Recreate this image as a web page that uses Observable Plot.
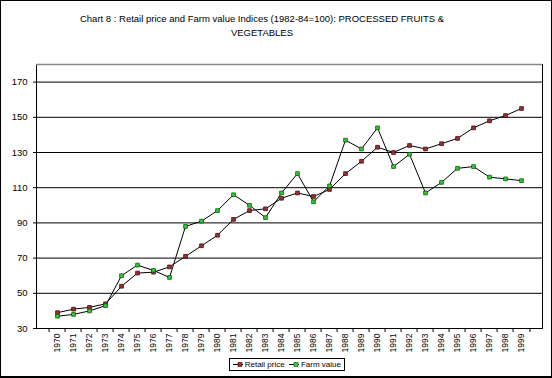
<!DOCTYPE html>
<html>
<head>
<meta charset="utf-8">
<script src="https://cdn.jsdelivr.net/npm/d3@7"></script>
<script src="https://cdn.jsdelivr.net/npm/@observablehq/plot@0.6"></script>
<style>
  html, body { margin: 0; padding: 0; background: white; }
  #wrap { position: relative; width: 552px; height: 378px; background: white; overflow: hidden; font-family: "Liberation Sans", Arial, sans-serif; }
  #border { position: absolute; left: 0; top: 0; width: 552px; height: 378px; box-sizing: border-box; border: 1px solid black; border-bottom-width: 2px; pointer-events: none; }
  #title { position: absolute; left: 0; top: 12px; width: 524px; text-align: center; font-size: 9.5px; line-height: 14px; color: #000; }
  #chart { position: absolute; left: 0; top: 0; }
  #legend { position: absolute; left: 229px; top: 358px; width: 114px; height: 11px; border: 1px solid black; background: white; font-size: 8px; line-height: 11px; color: #000; display: flex; align-items: center; white-space: nowrap; }
  #legend svg { display: block; }
</style>
</head>
<body>
<div id="wrap">
  <div id="chart"></div>
  <div id="title">Chart 8 : Retail price and Farm value Indices (1982-84=100): PROCESSED FRUITS &amp;<br>VEGETABLES</div>
  <div id="legend"></div>
  <div id="border"></div>
</div>
<script>
const years = ["1970","1971","1972","1973","1974","1975","1976","1977","1978","1979",
               "1980","1981","1982","1983","1984","1985","1986","1987","1988","1989",
               "1990","1991","1992","1993","1994","1995","1996","1997","1998","1999"];
const retailPrice = [39, 41, 42, 44, 54, 61.5, 62, 65, 71, 77,
                     83, 92, 97, 98, 104, 107, 105, 109, 118, 125,
                     133, 130, 134, 132, 135, 138, 144, 148, 151, 155];
const farmValue = [37, 38, 40, 43, 60, 66, 63, 59, 88, 91,
                   97, 106, 100, 93, 107, 118, 102, 111, 137, 132,
                   144, 122, 129, 107, 113, 121, 122, 116, 115, 114];
const seriesNames = ["Retail price", "Farm value"];
const yTicks = [30, 50, 70, 90, 110, 130, 150, 170];
const yDomain = [30, 180];

const fills = {"Retail price": "#993333", "Farm value": "#33cc33"};
const strokes = {"Retail price": "#4a0a0a", "Farm value": "#0b5a0b"};

const rows = [];
years.forEach((yr, i) => {
  rows.push({year: yr, value: retailPrice[i], series: seriesNames[0]});
  rows.push({year: yr, value: farmValue[i], series: seriesNames[1]});
});

const W = 552, H = 378, mL = 36, mR = 10, mT = 64, mB = 50;
const step = (W - mL - mR) / years.length;

const chart = Plot.plot({
  width: W, height: H,
  marginLeft: mL, marginRight: mR, marginTop: mT, marginBottom: mB,
  style: {fontFamily: "'Liberation Sans', Arial, sans-serif", background: "transparent", color: "black"},
  x: {type: "point", domain: years, padding: 0.5, label: null},
  y: {domain: yDomain, label: null},
  marks: [
    Plot.ruleY(yTicks.slice(1), {stroke: "black", strokeWidth: 1}),
    Plot.frame({stroke: "black"}),
    Plot.ruleY([yDomain[1]], {stroke: "#888888", strokeWidth: 1.5}),
    Plot.axisY(yTicks, {tickSize: 3, tickPadding: 6, fontSize: 9.5, stroke: "black", fill: "black", label: null}),
    Plot.axisX({tickSize: 0, tickPadding: 5, tickRotate: -90, fontSize: 8.5, fill: "black", label: null}),
    Plot.ruleX(years, {x: d => d, y1: yDomain[0], y2: yDomain[0], insetBottom: -4, dx: -step / 2, stroke: "black"}),
    Plot.ruleX(years.slice(-1), {x: d => d, y1: yDomain[0], y2: yDomain[0], insetBottom: -4, dx: step / 2, stroke: "black"}),
    Plot.line(rows, {x: "year", y: "value", z: "series", stroke: "black", strokeWidth: 1}),
    Plot.dot(rows, {x: "year", y: "value", symbol: "square", r: 2.1,
      fill: d => fills[d.series], stroke: d => strokes[d.series], strokeWidth: 0.8})
  ]
});
document.getElementById("chart").appendChild(chart);

const legend = document.getElementById("legend");
seriesNames.forEach((name, i) => {
  const ns = "http://www.w3.org/2000/svg";
  const s = document.createElementNS(ns, "svg");
  s.setAttribute("width", i === 0 ? 18 : 16);
  s.setAttribute("height", 9);
  const off = i === 0 ? 3 : 1;
  const l = document.createElementNS(ns, "line");
  l.setAttribute("x1", off); l.setAttribute("x2", off + 14);
  l.setAttribute("y1", 4.5); l.setAttribute("y2", 4.5);
  l.setAttribute("stroke", "black");
  s.appendChild(l);
  const r = document.createElementNS(ns, "rect");
  r.setAttribute("x", off + 5); r.setAttribute("y", 2.5);
  r.setAttribute("width", 4); r.setAttribute("height", 4);
  r.setAttribute("fill", fills[name]); r.setAttribute("stroke", strokes[name]); r.setAttribute("stroke-width", 0.6);
  s.appendChild(r);
  legend.appendChild(s);
  const t = document.createElement("span");
  t.style.marginLeft = "2px";
  t.style.marginRight = "3px";
  t.textContent = name;
  legend.appendChild(t);
});
</script>
</body>
</html>
